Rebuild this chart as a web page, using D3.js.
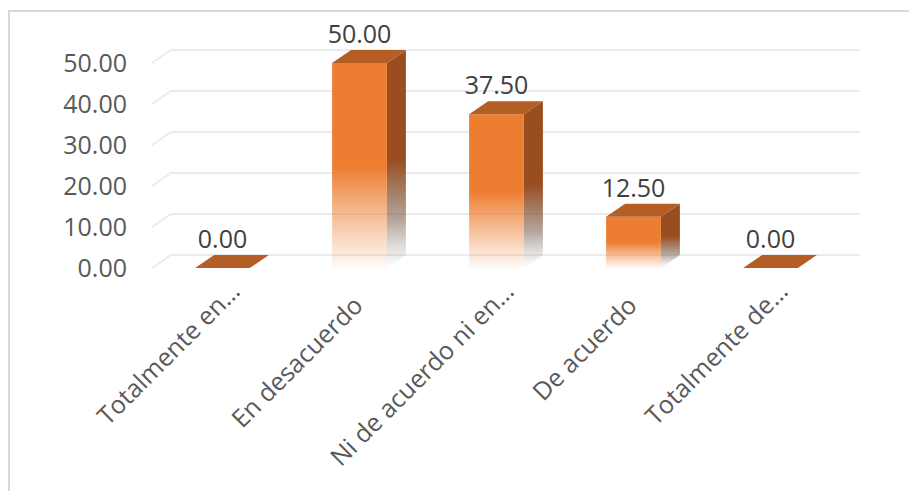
<!DOCTYPE html>
<html>
<head>
<meta charset="utf-8">
<script src="https://cdn.jsdelivr.net/npm/d3@7"></script>
<style>
  body { margin: 0; background: #fff; }
  text { font-family: "Open Sans", sans-serif; }
</style>
</head>
<body>
<svg id="chart"></svg>
<script>
// data
var categories = ["Totalmente en…", "En desacuerdo", "Ni de acuerdo ni en…", "De acuerdo", "Totalmente de…"];
var values = [0, 50, 37.5, 12.5, 0];
var yTicks = [0, 10, 20, 30, 40, 50];

var svgWidth = 909, svgHeight = 491;
var depthX = 19, depthY = -13;   // 3d offset of the back wall

var svg = d3.select("#chart")
    .attr("width", svgWidth)
    .attr("height", svgHeight);

// chart border
svg.append("rect")
    .attr("x", 9).attr("y", 11)
    .attr("width", 940).attr("height", 520)
    .attr("fill", "none")
    .attr("stroke", "#d9d9d9")
    .attr("stroke-width", 2);

var x = d3.scaleBand()
    .domain(categories)
    .range([154, 839])
    .paddingInner(0.6)
    .paddingOuter(0.3);

var y = d3.scaleLinear()
    .domain([0, 50])
    .range([268, 63]);

// gradients for the fading bars
var defs = svg.append("defs");
var frontGrad = defs.append("linearGradient")
    .attr("id", "frontGrad")
    .attr("x1", 0).attr("y1", 0).attr("x2", 0).attr("y2", 1);
[[0, 1], [0.5, 1], [0.75, 0.5], [1, 0.03]].forEach(function(s) {
    frontGrad.append("stop")
        .attr("offset", s[0])
        .attr("stop-color", "#ED7D31")
        .attr("stop-opacity", s[1]);
});
var sideGrad = defs.append("linearGradient")
    .attr("id", "sideGrad")
    .attr("x1", 0).attr("y1", 0).attr("x2", 0).attr("y2", 1);
[[0, "#9A4D1E", 1], [0.5, "#9A4D1E", 1], [0.78, "#7a5a48", 0.55], [1, "#888", 0]].forEach(function(s) {
    sideGrad.append("stop")
        .attr("offset", s[0])
        .attr("stop-color", s[1])
        .attr("stop-opacity", s[2]);
});

// gridlines on the floor edge + back wall
var left = x.range()[0] - 2, right = x.range()[1] + 2;
svg.selectAll(".grid")
    .data(yTicks)
    .enter().append("path")
    .attr("class", "grid")
    .attr("d", function(d) {
        return "M" + left + "," + y(d) +
            "L" + (left + depthX) + "," + (y(d) + depthY) +
            "L" + (right + depthX) + "," + (y(d) + depthY);
    })
    .attr("fill", "none")
    .attr("stroke", "#ebebeb")
    .attr("stroke-width", 2);

// y axis labels
svg.selectAll(".ylab")
    .data(yTicks)
    .enter().append("text")
    .attr("class", "ylab")
    .attr("x", 127)
    .attr("y", function(d) { return y(d); })
    .attr("dy", "0.36em")
    .attr("text-anchor", "end")
    .attr("font-size", 25)
    .attr("fill", "#595959")
    .text(d3.format(".2f"));

var bw = x.bandwidth();
var bars = svg.selectAll(".bar")
    .data(values)
    .enter().append("g")
    .attr("class", "bar");

// side face
bars.filter(function(d) { return d > 0; })
    .append("path")
    .attr("d", function(d, i) {
        var x1 = x(categories[values.indexOf(d)]) + bw;
        return "M" + x1 + "," + y(d) +
            "L" + (x1 + depthX) + "," + (y(d) + depthY) +
            "L" + (x1 + depthX) + "," + (y(0) + depthY) +
            "L" + x1 + "," + y(0) + "Z";
    })
    .attr("fill", "url(#sideGrad)");

// front face
bars.filter(function(d) { return d > 0; })
    .append("rect")
    .attr("x", function(d) { return x(categories[values.indexOf(d)]); })
    .attr("y", function(d) { return y(d); })
    .attr("width", bw)
    .attr("height", function(d) { return y(0) - y(d); })
    .attr("fill", "url(#frontGrad)");

// top face
bars.append("path")
    .attr("d", function(d, i) {
        var x0 = x(categories[i]), yt = y(d);
        return "M" + x0 + "," + yt +
            "L" + (x0 + depthX) + "," + (yt + depthY) +
            "L" + (x0 + bw + depthX) + "," + (yt + depthY) +
            "L" + (x0 + bw) + "," + yt + "Z";
    })
    .attr("fill", "#B45D25");

// value labels
bars.append("text")
    .attr("x", function(d, i) { return x(categories[i]) + bw / 2; })
    .attr("y", function(d) { return y(d) - 20; })
    .attr("text-anchor", "middle")
    .attr("font-size", 25)
    .attr("fill", "#404040")
    .text(d3.format(".2f"));

// category labels, rotated
svg.selectAll(".xlab")
    .data(categories)
    .enter().append("text")
    .attr("class", "xlab")
    .attr("transform", function(d) {
        return "translate(" + (x(d) + bw / 2 + 19) + ",293) rotate(-45)";
    })
    .attr("dx", function(d) { return d.endsWith("…") ? 0 : -20; })
    .attr("text-anchor", "end")
    .attr("font-size", 25)
    .attr("fill", "#595959")
    .text(function(d) { return d; });
</script>
</body>
</html>
